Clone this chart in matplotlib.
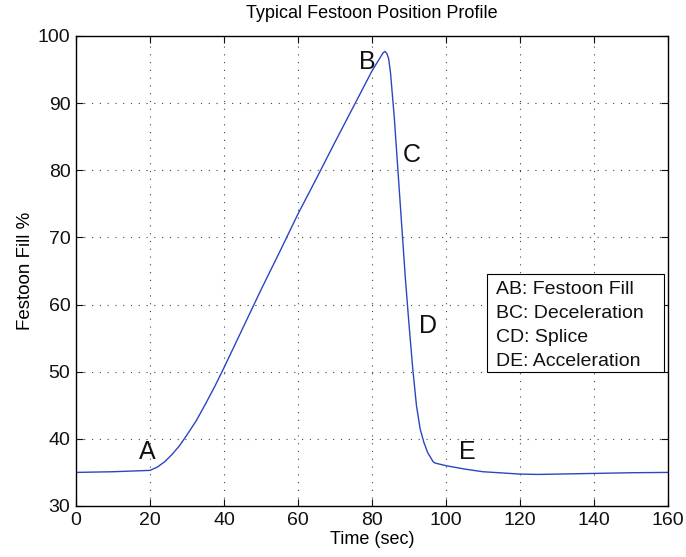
import matplotlib
matplotlib.use("Agg")
import matplotlib.pyplot as plt
from matplotlib.patches import Rectangle

plt.rcParams["font.family"] = ["Liberation Sans", "DejaVu Sans"]

# festoon fill level over one splice cycle
tiempo = [0, 10, 20, 22, 24, 26, 28, 30, 32.5, 35, 37.5, 40, 45, 50, 55,
          60, 65, 70, 75, 80, 82, 83, 83.5, 84, 84.5, 85, 86, 87, 88, 89,
          90, 91, 92, 93, 94, 95, 96.5, 97, 100, 105, 110, 120, 125, 130,
          140, 150, 160]
llenado = [35.0, 35.1, 35.3, 35.8, 36.6, 37.7, 39.0, 40.6, 42.7, 45.2,
           47.8, 50.6, 56.4, 62.2, 67.8, 73.5, 78.8, 84.2, 89.5, 94.8,
           96.6, 97.5, 97.7, 97.4, 96.6, 94.5, 88.0, 80.0, 72.0, 64.0,
           57.0, 50.5, 45.0, 41.5, 39.5, 38.0, 36.6, 36.4, 36.0, 35.5,
           35.1, 34.75, 34.7, 34.75, 34.85, 34.95, 35.0]

# phase markers
etiquetas = ["A", "B", "C", "D", "E"]
etiq_x = [19.2, 78.6, 90.8, 95.1, 105.7]
etiq_y = [38.0, 96.1, 82.3, 56.8, 38.0]

leyenda = ["AB: Festoon Fill", "BC: Deceleration", "CD: Splice", "DE: Acceleration"]

fig = plt.figure(figsize=(6.86, 5.57), dpi=100)
ax = fig.add_axes([0.1108, 0.0916, 0.863, 0.8438])

ax.plot(tiempo, llenado, color="#2a46c2", linewidth=1.0)

for t, x, y in zip(etiquetas, etiq_x, etiq_y):
  ax.text(x, y, t, fontsize=18, ha="center", va="center", color="#111111")

# text box with phase descriptions (axes fraction)
ax.add_patch(Rectangle((0.6943, 0.2851), 0.2989, 0.2085, transform=ax.transAxes,
                       facecolor="white", edgecolor="black", linewidth=0.8,
                       zorder=3))
for i, linea in enumerate(leyenda):
  ax.text(0.7095, 0.4596 - i * 0.0505, linea, transform=ax.transAxes,
          fontsize=14, ha="left", va="center", color="#111111", zorder=4)

ax.set_xlim(0, 160)
ax.set_ylim(30, 100)
ax.set_xticks(range(0, 161, 20))
ax.set_yticks(range(30, 101, 10))
ax.tick_params(direction="in", length=5, top=True, right=True,
               labelsize=14, colors="#111111", pad=4)
ax.grid(True, linestyle=(0, (1, 6)), color="#444444", linewidth=0.8)
for s in ax.spines.values():
  s.set_linewidth(1.0)

ax.set_title("Typical Festoon Position Profile", fontsize=13, pad=13)
ax.set_xlabel("Time (sec)", fontsize=13, labelpad=2)
ax.set_ylabel("Festoon Fill %", fontsize=13.5, labelpad=3)

fig.savefig("out.png", dpi=100)
